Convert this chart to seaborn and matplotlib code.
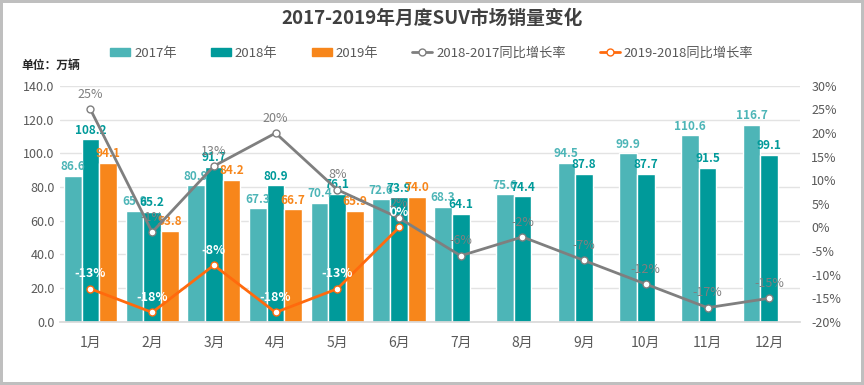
import numpy as np
import pandas as pd
import seaborn as sns
import matplotlib.pyplot as plt
from matplotlib.ticker import FuncFormatter

months = ['1月', '2月', '3月', '4月', '5月', '6月', '7月', '8月', '9月', '10月', '11月', '12月']
sales_2017 = [86.6, 65.9, 80.9, 67.3, 70.4, 72.6, 68.3, 75.6, 94.5, 99.9, 110.6, 116.7]
sales_2018 = [108.2, 65.2, 91.7, 80.9, 76.1, 73.9, 64.1, 74.4, 87.8, 87.7, 91.5, 99.1]
sales_2019 = [94.1, 53.8, 84.2, 66.7, 65.9, 74.0]
growth_18_17 = [25, -1, 13, 20, 8, 2, -6, -2, -7, -12, -17, -15]
growth_19_18 = [-13, -18, -8, -18, -13, 0]

years = ['2017年', '2018年', '2019年']
bar_colors = ['#4DB5B7', '#009A9A', '#F7861B']
gray_line = '#7F7F7F'
orange_line = '#FF6A0D'

sns.set_theme(style='white')
plt.rcParams['font.family'] = ['Noto Sans CJK SC', 'DejaVu Sans']

rows = []
for yr, vals in zip(years, [sales_2017, sales_2018, sales_2019]):
    for m, v in zip(months, vals):
        rows.append({'month': m, 'year': yr, 'sales': v})
df = pd.DataFrame(rows)

fig = plt.figure(figsize=(8.64, 3.85), dpi=100, edgecolor='#BFBFBF', linewidth=4)
ax = fig.add_axes([0.069, 0.164, 0.857, 0.613])

sns.barplot(data=df, x='month', y='sales', hue='year', order=months, hue_order=years,
            palette=bar_colors, width=0.86, gap=0, ax=ax, legend=False, errorbar=None,
            saturation=1)

for cont, col in zip(ax.containers, bar_colors):
    ax.bar_label(cont, fmt='%.1f', color=col, fontsize=8.5, fontweight='bold', padding=2)

ax.set_ylim(0, 140)
ax.set_yticks(np.arange(0, 141, 20))
ax.yaxis.set_major_formatter(FuncFormatter(lambda v, p: f'{v:.1f}'))
ax.set_xlim(-0.5, 11.5)
ax.set_xlabel('')
ax.set_ylabel('')
ax.grid(axis='y', color='#E3E3E3', linewidth=1)
ax.set_axisbelow(True)
for s in ['top', 'right', 'left']:
    ax.spines[s].set_visible(False)
ax.spines['bottom'].set_color('#D9D9D9')
ax.tick_params(axis='both', length=0, colors='#595959', labelsize=9)
ax.tick_params(axis='x', pad=10, labelsize=10)

ax2 = ax.twinx()
x_all = np.arange(len(months))
sns.lineplot(x=x_all, y=growth_18_17, ax=ax2, color=gray_line, linewidth=2,
             marker='o', markersize=5, markerfacecolor='white', markeredgecolor=gray_line,
             markeredgewidth=1, label='2018-2017同比增长率', legend=False)
sns.lineplot(x=x_all[:len(growth_19_18)], y=growth_19_18, ax=ax2, color=orange_line, linewidth=2,
             marker='o', markersize=5, markerfacecolor='white', markeredgecolor=orange_line,
             markeredgewidth=1, label='2019-2018同比增长率', legend=False)
ax2.set_ylim(-20, 30)
ax2.set_yticks(np.arange(-20, 31, 5))
ax2.yaxis.set_major_formatter(FuncFormatter(lambda v, p: f'{v:.0f}%'))
ax2.set_xlim(-0.5, 11.5)
for s in ax2.spines.values():
    s.set_visible(False)
ax2.tick_params(axis='y', length=0, colors='#595959', labelsize=9, pad=8)

for x, v in zip(x_all, growth_18_17):
    ax2.annotate(f'{v}%', (x, v), xytext=(0, 6), textcoords='offset points',
                 ha='center', va='bottom', color=gray_line, fontsize=9)
for x, v in zip(x_all, growth_19_18):
    ax2.annotate(f'{v}%', (x, v), xytext=(0, 6), textcoords='offset points',
                 ha='center', va='bottom', color='white', fontsize=9, fontweight='bold')

handles = [plt.Rectangle((0, 0), 1, 1, color=c) for c in bar_colors]
handles += ax2.get_lines()[:2]
labels = years + ['2018-2017同比增长率', '2019-2018同比增长率']
fig.legend(handles, labels, loc='center', bbox_to_anchor=(0.5, 0.862), ncol=5, frameon=False,
           fontsize=9.5, labelcolor='#595959', columnspacing=2.6, handlelength=1.5,
           handleheight=0.5, handletextpad=0.3)

fig.text(0.5, 0.953, '2017-2019年月度SUV市场销量变化', ha='center', va='center',
         fontsize=13.5, fontweight='bold', color='#404040')
fig.text(0.025, 0.83, '单位：万辆', ha='left', va='center', fontsize=8.5,
         fontweight='bold', color='#262626')

fig.savefig('out.png', dpi=100, edgecolor=fig.get_edgecolor())
